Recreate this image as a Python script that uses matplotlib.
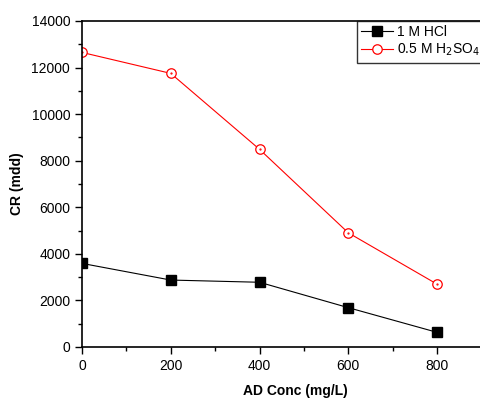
import matplotlib
matplotlib.use("Agg")
import matplotlib.pyplot as plt
from matplotlib.ticker import MultipleLocator

conc = [0, 200, 400, 600, 800]  # AD Conc (mg/L)
cr_hcl = [3590, 2875, 2780, 1690, 630]
cr_h2so4 = [12650, 11750, 8490, 4905, 2700]

plt.rcParams['font.family'] = ['Liberation Sans', 'DejaVu Sans']

fig = plt.figure(figsize=(4.8, 4.01), dpi=100)
ax = fig.add_axes([82/480, 54/401, 426/480, 326/401])

ax.plot(conc, cr_hcl, color='black', lw=0.8, marker='s', ms=7.5,
        mfc='black', mec='black', label='1 M HCl')
ax.plot(conc, cr_h2so4, color='red', lw=0.8, marker='o', ms=6.8,
        mfc='white', mec='red', mew=0.9, label='0.5 M H$_2$SO$_4$')
# small dot in the middle of the open circles
ax.plot(conc, cr_h2so4, ls='none', marker='.', ms=1.2, color='red')

ax.set_xlim(0, 960)
ax.set_ylim(0, 14000)
ax.xaxis.set_major_locator(MultipleLocator(200))
ax.xaxis.set_minor_locator(MultipleLocator(100))
ax.yaxis.set_major_locator(MultipleLocator(2000))
ax.yaxis.set_minor_locator(MultipleLocator(1000))
ax.set_xticks([0, 200, 400, 600, 800])

ax.tick_params(which='major', direction='out', length=5, width=1, labelsize=10)
ax.tick_params(which='minor', direction='out', length=3, width=1)
ax.tick_params(top=False, right=False)
for s in ['left', 'bottom', 'top', 'right']:
    ax.spines[s].set_linewidth(1.2)

ax.set_xlabel('AD Conc (mg/L)', fontsize=10, fontweight='bold', labelpad=8)
ax.set_ylabel('CR (mdd)', fontsize=10, fontweight='bold', labelpad=5)

leg = fig.legend(loc='upper left', bbox_to_anchor=(357/480, 1 - 21/401),
                 fontsize=10, frameon=True, fancybox=False, borderaxespad=0,
                 handlelength=2.3, handletextpad=0.3, borderpad=0.3,
                 labelspacing=0.2)
leg.get_frame().set_edgecolor('black')
leg.get_frame().set_linewidth(1)

fig.savefig('out.png', dpi=100)
